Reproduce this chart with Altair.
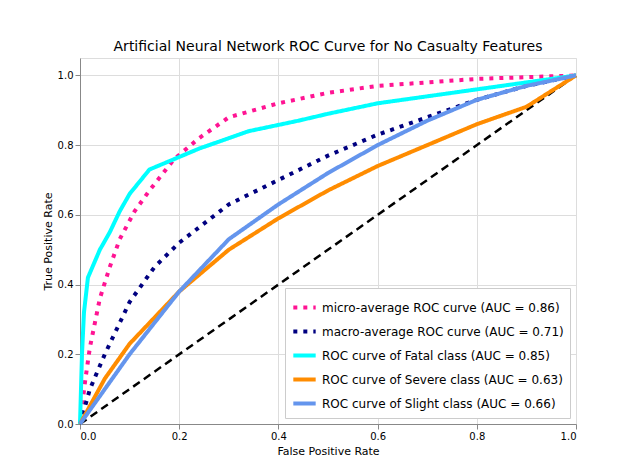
import altair as alt
import pandas as pd

# ROC curves
micro_x = [0, 0.01, 0.02, 0.04, 0.06, 0.08, 0.11, 0.14, 0.19, 0.24, 0.3, 0.4, 0.5, 0.6, 0.8, 1]
micro_y = [0, 0.12, 0.22, 0.36, 0.45, 0.53, 0.61, 0.67, 0.76, 0.82, 0.88, 0.92, 0.95, 0.97, 0.99, 1]
macro_x = [0, 0.02, 0.05, 0.1, 0.15, 0.2, 0.3, 0.4, 0.5, 0.6, 0.7, 0.8, 0.9, 1]
macro_y = [0, 0.1, 0.2, 0.35, 0.45, 0.52, 0.63, 0.7, 0.77, 0.83, 0.88, 0.93, 0.97, 1]
fatal_x = [0, 0.004, 0.008, 0.016, 0.04, 0.06, 0.08, 0.1, 0.14, 0.19, 0.24, 0.34, 0.44, 0.5, 0.6, 0.7, 0.8, 0.9, 1]
fatal_y = [0, 0.2, 0.32, 0.42, 0.5, 0.55, 0.61, 0.66, 0.73, 0.76, 0.79, 0.84, 0.87, 0.89, 0.92, 0.94, 0.96, 0.98, 1]
severe_x = [0, 0.05, 0.1, 0.2, 0.3, 0.4, 0.5, 0.6, 0.7, 0.8, 0.9, 1]
severe_y = [0, 0.13, 0.23, 0.38, 0.5, 0.59, 0.67, 0.74, 0.8, 0.86, 0.91, 1]
slight_x = [0, 0.05, 0.1, 0.2, 0.3, 0.4, 0.5, 0.6, 0.7, 0.8, 0.9, 1]
slight_y = [0, 0.1, 0.2, 0.38, 0.53, 0.63, 0.72, 0.8, 0.87, 0.93, 0.97, 1]

names = [
    "micro-average ROC curve (AUC = 0.86)",
    "macro-average ROC curve (AUC = 0.71)",
    "ROC curve of Fatal class (AUC = 0.85)",
    "ROC curve of Severe class (AUC = 0.63)",
    "ROC curve of Slight class (AUC = 0.66)",
]
colors = ["#ff1493", "#000080", "#00ffff", "#ff8c00", "#6495ed"]
dashes = [[4, 6], [4, 6], [1, 0], [1, 0], [1, 0]]
widths = [4, 4, 2, 2, 2]

rows = []
for i, (xs, ys) in enumerate([(micro_x, micro_y), (macro_x, macro_y), (fatal_x, fatal_y),
                              (severe_x, severe_y), (slight_x, slight_y)]):
    for k, (a, b) in enumerate(zip(xs, ys)):
        rows.append({"fpr": a, "tpr": b, "curve": names[i], "order": k})
df = pd.DataFrame(rows)

ticks = [0, 0.2, 0.4, 0.6, 0.8, 1.0]
x = alt.X("fpr:Q", title="False Positive Rate", scale=alt.Scale(domain=[0, 1], nice=False),
          axis=alt.Axis(values=ticks, format=".1f", titleFontWeight="normal"))
y = alt.Y("tpr:Q", title="True Positive Rate", scale=alt.Scale(domain=[0, 1.05], nice=False),
          axis=alt.Axis(values=ticks, format=".1f", titleFontWeight="normal"))

lines = alt.Chart(df).mark_line().encode(
    x=x, y=y, order="order:Q",
    color=alt.Color("curve:N", scale=alt.Scale(domain=names, range=colors), title=None,
                    legend=alt.Legend(orient="bottom-right", symbolType="stroke", symbolSize=500,
                                      labelFontSize=12, fillColor="white", strokeColor="#cccccc",
                                      padding=6, offset=6, labelLimit=400)),
    strokeDash=alt.StrokeDash("curve:N", scale=alt.Scale(domain=names, range=dashes), legend=None),
    strokeWidth=alt.StrokeWidth("curve:N", scale=alt.Scale(domain=names, range=widths), legend=None),
)

diag = alt.Chart(pd.DataFrame({"fpr": [0, 1], "tpr": [0, 1]})).mark_line(
    color="black", strokeDash=[8, 5], strokeWidth=2.5).encode(x=x, y=y)

chart = alt.layer(diag, lines).properties(
    width=496, height=366,
    title=alt.TitleParams("Artificial Neural Network ROC Curve for No Casualty Features",
                          fontSize=14, fontWeight="normal"),
    autosize=alt.AutoSizeParams(type="none"),
    padding={"left": 72, "top": 50, "right": 56, "bottom": 44},
).configure_axis(
    grid=False, domainColor="black", tickColor="black", labelColor="black",
    titleColor="black", labelFontSize=11, titleFontSize=12, titleFontWeight="normal",
).configure_view(stroke="black").configure(font="DejaVu Sans")

chart.save("out.html", embed_options={"renderer": "svg", "actions": False})
